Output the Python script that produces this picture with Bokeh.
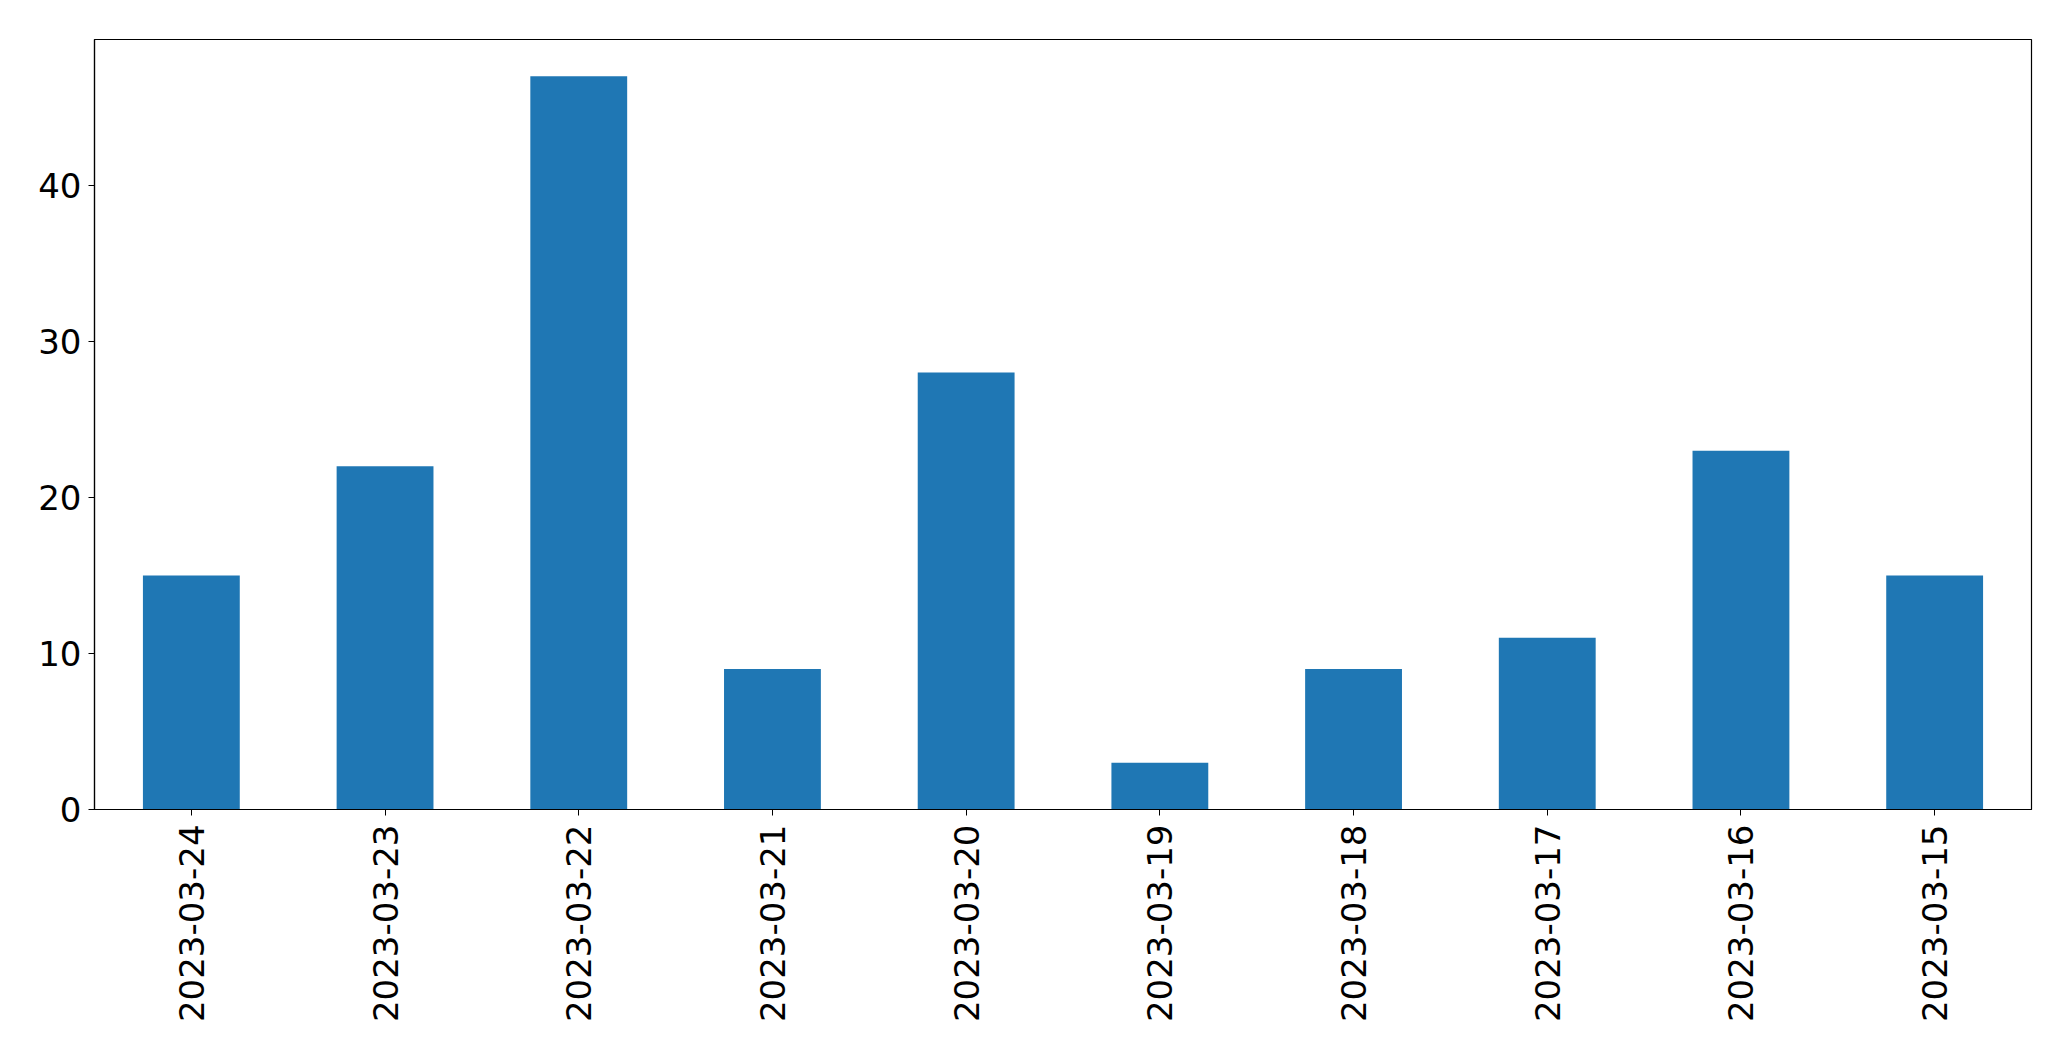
import math
from bokeh.plotting import figure
from bokeh.models import FactorRange, Range1d, FixedTicker, ColumnDataSource
from bokeh.embed import file_html
from bokeh.resources import INLINE

dates = ["2023-03-24", "2023-03-23", "2023-03-22", "2023-03-21", "2023-03-20",
         "2023-03-19", "2023-03-18", "2023-03-17", "2023-03-16", "2023-03-15"]
counts = [15, 22, 47, 9, 28, 3, 9, 11, 23, 15]
y_ticks = [0, 10, 20, 30, 40]

src = ColumnDataSource(dict(x=dates, top=counts))

p = figure(width=2055, height=1045, output_backend="svg", toolbar_location=None,
           x_range=FactorRange(factors=dates, range_padding=0),
           y_range=Range1d(0, max(counts) * 1.05),
           min_border_left=94, min_border_right=24, min_border_top=39, min_border_bottom=236)
p.vbar(x="x", top="top", width=0.5, source=src, color="#1f77b4", line_color=None)

p.xgrid.visible = False
p.ygrid.visible = False
p.outline_line_color = "black"
p.outline_line_width = 1.2
p.outline_line_alpha = 1.0
p.background_fill_color = "white"
p.border_fill_color = "white"

p.yaxis.ticker = FixedTicker(ticks=y_ticks)
for ax in (p.xaxis[0], p.yaxis[0]):
    ax.major_label_text_font = "DejaVu Sans"
    ax.major_label_text_font_size = "34px"
    ax.major_label_text_color = "black"
    ax.major_tick_line_color = "black"
    ax.major_tick_out = 6
    ax.major_tick_in = 0
    ax.minor_tick_line_color = None
    ax.axis_line_color = "black"
    ax.axis_line_width = 1.2
p.yaxis.major_label_standoff = 7
p.xaxis.major_label_standoff = 9
p.xaxis.major_label_orientation = math.pi / 2
p.xaxis.group_text_font_size = "0px"

open("out.html", "w").write(file_html(p, INLINE))
